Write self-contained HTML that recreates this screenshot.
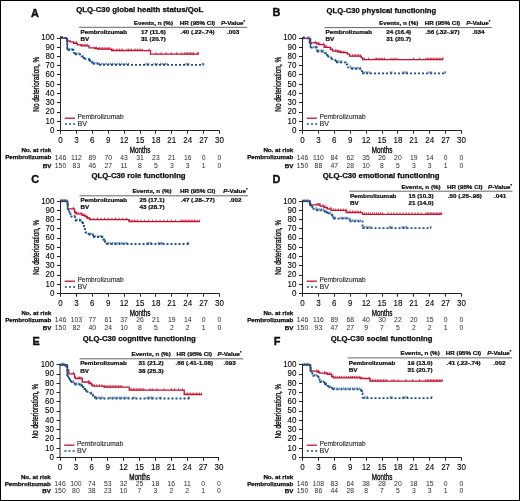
<!DOCTYPE html>
<html><head><meta charset="utf-8"><style>
html,body{margin:0;padding:0;background:#fff;}
svg{display:block;will-change:transform;}
text{font-family:"Liberation Sans",sans-serif;fill:#111;}
.let{font-size:10.9px;font-weight:bold;stroke:#000;stroke-width:0.35px;}
.ttl{font-size:7.8px;font-weight:bold;stroke:#000;stroke-width:0.25px;}
.tb{font-size:6.25px;font-weight:bold;stroke:#000;stroke-width:0.22px;}
.tk{font-size:8.9px;fill:#000;stroke:#000;stroke-width:0.1px;}
.al{font-size:8.8px;fill:#000;stroke:#000;stroke-width:0.3px;}
.al2{font-size:9px;fill:#000;stroke:#000;stroke-width:0.3px;}
.lg{font-size:6.8px;fill:#222;stroke:#222;stroke-width:0.1px;}
.rl{font-size:6.2px;font-weight:bold;stroke:#000;stroke-width:0.25px;}
.rn{font-size:6.8px;fill:#2a2a2a;}
</style></head><body>
<svg width="520" height="501" viewBox="0 0 520 501">
<rect x="0.5" y="0.5" width="519" height="500" fill="#fff" stroke="#000" stroke-width="1"/>
<text x="31" y="16.6" class="let">A</text>
<text x="139.75" y="12.2" class="ttl" text-anchor="middle" textLength="127.1" lengthAdjust="spacingAndGlyphs">QLQ-C30 global health status/QoL</text>
<text x="153.4" y="25.1" class="tb" text-anchor="middle">Events, n (%)</text>
<text x="197.5" y="25.1" class="tb" text-anchor="middle">HR (95% CI)</text>
<text x="233.1" y="25.1" class="tb" text-anchor="middle"><tspan font-style="italic">P</tspan>-Value<tspan font-size="4" dy="-2">*</tspan></text>
<path d="M79.2,27.3H247.3" stroke="#666" stroke-width="1"/>
<text x="80.6" y="33.6" class="tb">Pembrolizumab</text>
<text x="80.6" y="40.6" class="tb">BV</text>
<text x="153.4" y="33.6" class="tb" text-anchor="middle">17 (11.6)</text>
<text x="153.4" y="40.6" class="tb" text-anchor="middle">31 (20.7)</text>
<text x="197.5" y="33.6" class="tb" text-anchor="middle">.40 (.22-.74)</text>
<text x="233.1" y="33.6" class="tb" text-anchor="middle">.003</text>
<text x="54.5" y="132.8" class="tk" text-anchor="end" textLength="4.45" lengthAdjust="spacingAndGlyphs">0</text>
<text x="54.5" y="123.55" class="tk" text-anchor="end" textLength="8.9" lengthAdjust="spacingAndGlyphs">10</text>
<text x="54.5" y="114.3" class="tk" text-anchor="end" textLength="8.9" lengthAdjust="spacingAndGlyphs">20</text>
<text x="54.5" y="105.05" class="tk" text-anchor="end" textLength="8.9" lengthAdjust="spacingAndGlyphs">30</text>
<text x="54.5" y="95.8" class="tk" text-anchor="end" textLength="8.9" lengthAdjust="spacingAndGlyphs">40</text>
<text x="54.5" y="86.55" class="tk" text-anchor="end" textLength="8.9" lengthAdjust="spacingAndGlyphs">50</text>
<text x="54.5" y="77.3" class="tk" text-anchor="end" textLength="8.9" lengthAdjust="spacingAndGlyphs">60</text>
<text x="54.5" y="68.05" class="tk" text-anchor="end" textLength="8.9" lengthAdjust="spacingAndGlyphs">70</text>
<text x="54.5" y="58.8" class="tk" text-anchor="end" textLength="8.9" lengthAdjust="spacingAndGlyphs">80</text>
<text x="54.5" y="49.55" class="tk" text-anchor="end" textLength="8.9" lengthAdjust="spacingAndGlyphs">90</text>
<text x="54.5" y="40.3" class="tk" text-anchor="end" textLength="13.35" lengthAdjust="spacingAndGlyphs">100</text>
<text x="60.5" y="142.8" class="tk" text-anchor="middle" textLength="4.45" lengthAdjust="spacingAndGlyphs">0</text>
<text x="76.4" y="142.8" class="tk" text-anchor="middle" textLength="4.45" lengthAdjust="spacingAndGlyphs">3</text>
<text x="92.3" y="142.8" class="tk" text-anchor="middle" textLength="4.45" lengthAdjust="spacingAndGlyphs">6</text>
<text x="108.2" y="142.8" class="tk" text-anchor="middle" textLength="4.45" lengthAdjust="spacingAndGlyphs">9</text>
<text x="124.1" y="142.8" class="tk" text-anchor="middle" textLength="8.9" lengthAdjust="spacingAndGlyphs">12</text>
<text x="140" y="142.8" class="tk" text-anchor="middle" textLength="8.9" lengthAdjust="spacingAndGlyphs">15</text>
<text x="155.9" y="142.8" class="tk" text-anchor="middle" textLength="8.9" lengthAdjust="spacingAndGlyphs">18</text>
<text x="171.8" y="142.8" class="tk" text-anchor="middle" textLength="8.9" lengthAdjust="spacingAndGlyphs">21</text>
<text x="187.7" y="142.8" class="tk" text-anchor="middle" textLength="8.9" lengthAdjust="spacingAndGlyphs">24</text>
<text x="203.6" y="142.8" class="tk" text-anchor="middle" textLength="8.9" lengthAdjust="spacingAndGlyphs">27</text>
<text x="219.5" y="142.8" class="tk" text-anchor="middle" textLength="8.9" lengthAdjust="spacingAndGlyphs">30</text>
<path d="M60.5,37V130.5H219.5M57,130.5H60.5M57,121.5H60.5M57,112.5H60.5M57,102.5H60.5M57,93.5H60.5M57,84.5H60.5M57,74.5H60.5M57,65.5H60.5M57,56.5H60.5M57,47.5H60.5M57,38.5H60.5M60.5,130.5V133.7M76.5,130.5V133.7M92.5,130.5V133.7M108.5,130.5V133.7M124.5,130.5V133.7M140.5,130.5V133.7M155.5,130.5V133.7M171.5,130.5V133.7M187.5,130.5V133.7M203.5,130.5V133.7M219.5,130.5V133.7" stroke="#222" stroke-width="1" fill="none"/>
<text transform="translate(38.5,84.25) rotate(-90) scale(0.73,1)" class="al" text-anchor="middle">No deterioration, %</text>
<text transform="translate(140,152.7) scale(0.7,1)" class="al2" text-anchor="middle">Months</text>
<path d="M64.7,118.2H74.9" stroke="#c8102e" stroke-width="1.3"/>
<path d="M64.9,124H75.1" stroke="#1c4f8c" stroke-width="1.4" stroke-dasharray="2 2.1"/>
<text x="77.4" y="119.1" class="lg" textLength="46.2" lengthAdjust="spacingAndGlyphs">Pembrolizumab</text>
<text x="77.4" y="126.2" class="lg" textLength="9.6" lengthAdjust="spacingAndGlyphs">BV</text>
<text x="51.3" y="152.3" class="rl" text-anchor="end">No. at risk</text>
<text x="51.3" y="159.3" class="rl" text-anchor="end">Pembrolizumab</text>
<text x="51.3" y="167.5" class="rl" text-anchor="end">BV</text>
<text x="60.5" y="159.5" class="rn" text-anchor="middle">146</text>
<text x="60.5" y="167.5" class="rn" text-anchor="middle">150</text>
<text x="76.4" y="159.5" class="rn" text-anchor="middle">112</text>
<text x="76.4" y="167.5" class="rn" text-anchor="middle">83</text>
<text x="92.3" y="159.5" class="rn" text-anchor="middle">89</text>
<text x="92.3" y="167.5" class="rn" text-anchor="middle">46</text>
<text x="108.2" y="159.5" class="rn" text-anchor="middle">70</text>
<text x="108.2" y="167.5" class="rn" text-anchor="middle">27</text>
<text x="124.1" y="159.5" class="rn" text-anchor="middle">43</text>
<text x="124.1" y="167.5" class="rn" text-anchor="middle">11</text>
<text x="140" y="159.5" class="rn" text-anchor="middle">31</text>
<text x="140" y="167.5" class="rn" text-anchor="middle">8</text>
<text x="155.9" y="159.5" class="rn" text-anchor="middle">23</text>
<text x="155.9" y="167.5" class="rn" text-anchor="middle">5</text>
<text x="171.8" y="159.5" class="rn" text-anchor="middle">21</text>
<text x="171.8" y="167.5" class="rn" text-anchor="middle">3</text>
<text x="187.7" y="159.5" class="rn" text-anchor="middle">16</text>
<text x="187.7" y="167.5" class="rn" text-anchor="middle">3</text>
<text x="203.6" y="159.5" class="rn" text-anchor="middle">0</text>
<text x="203.6" y="167.5" class="rn" text-anchor="middle">1</text>
<text x="219.5" y="159.5" class="rn" text-anchor="middle">0</text>
<text x="219.5" y="167.5" class="rn" text-anchor="middle">0</text>
<path d="M60.5,38H66.6V41H70V41.8H73.5V43.3H77.4V44.8H81.2V45.8H89V47.9H95V48.6H98V49.2H111.5V50.6H150.5V54.2H198.5" stroke="#c8102e" stroke-width="1.3" fill="none"/>
<path d="M61,38.3v-2.2M62.5,38.3v-2.2M73.5,43.6v-2.2M75,43.6v-2.2M76.5,43.6v-2.2M81.2,46.1v-2.2M82.8,46.1v-2.2M84.4,46.1v-2.2M86,46.1v-2.2M87.6,46.1v-2.2M95,48.9v-2.2M96.5,48.9v-2.2M98,49.5v-2.2M99.5,49.5v-2.2M101,49.5v-2.2M102.5,49.5v-2.2M104,49.5v-2.2M105.5,49.5v-2.2M107,49.5v-2.2M108.5,49.5v-2.2M110,49.5v-2.2M112.3,50.9v-2.2M113.8,50.9v-2.2M116.3,50.9v-2.2M117.9,50.9v-2.2M119.5,50.9v-2.2M121.1,50.9v-2.2M122.7,50.9v-2.2M126.7,50.9v-2.2M128.3,50.9v-2.2M129.9,50.9v-2.2M131.5,50.9v-2.2M134.2,50.9v-2.2M135.8,50.9v-2.2M137.4,50.9v-2.2M139,50.9v-2.2M140.6,50.9v-2.2M142.2,50.9v-2.2M149.2,50.9v-2.2M155.8,54.5v-2.2M161,54.5v-2.2M166.2,54.5v-2.2M171.4,54.5v-2.2M176.6,54.5v-2.2M181.8,54.5v-2.2M184.6,54.5v-2.2M186.1,54.5v-2.2M187.6,54.5v-2.2M189.1,54.5v-2.2M190.6,54.5v-2.2M192.1,54.5v-2.2M193.6,54.5v-2.2M197.3,54.5v-2.2M198.5,54.5v-2.2" stroke="#c8102e" stroke-width="0.9" fill="none"/>
<path d="M60.5,38H67.3V49.5M67.3,49.5H67.8V50M67.8,50H73.7V53.3M73.7,53.3H75V54.4M75,54.4H81.2V56.5M81.2,56.5H83V58M83,58H84.3V58.9M84.3,58.9H88.9V60.8M88.9,60.8H91V62.5M91,62.5H92.8V63.8M92.8,63.8H99V64.8M99,64.8H203.7" stroke="#1c4f8c" stroke-width="1.8" fill="none" stroke-dasharray="2 2"/>
<path d="M60.5,38.3v-2.2M61.5,38.3v-2.2M69.7,50.3v-2.2M71.2,50.3v-2.2M72.7,50.3v-2.2M75,54.7v-2.2M76.6,54.7v-2.2M78.2,54.7v-2.2M79.8,54.7v-2.2M89,61.1v-2.2M90.6,61.1v-2.2M92.2,62.8v-2.2M94.3,64.1v-2.2M96.1,64.1v-2.2M97.9,64.1v-2.2M99.7,65.1v-2.2M101.5,65.1v-2.2M103.3,65.1v-2.2M105.1,65.1v-2.2M106.9,65.1v-2.2M108.7,65.1v-2.2M110.5,65.1v-2.2M112.3,65.1v-2.2M114.1,65.1v-2.2M115.9,65.1v-2.2M117.7,65.1v-2.2M119.5,65.1v-2.2M121.3,65.1v-2.2M123.1,65.1v-2.2M124.9,65.1v-2.2M126.7,65.1v-2.2M128.5,65.1v-2.2M145.8,65.1v-2.2M147.3,65.1v-2.2M148.8,65.1v-2.2M153.8,65.1v-2.2M155.8,65.1v-2.2M157.3,65.1v-2.2M160.4,65.1v-2.2M162.1,65.1v-2.2M163.8,65.1v-2.2M165.5,65.1v-2.2M167.2,65.1v-2.2M185.8,65.1v-2.2M187.3,65.1v-2.2M188.8,65.1v-2.2M202.5,65.1v-2.2M203.7,65.1v-2.2" stroke="#1c4f8c" stroke-width="0.8" fill="none"/>
<path d="M67.3,38V49.5" stroke="#1c4f8c" stroke-width="1.4" fill="none"/>
<text x="272.5" y="16.3" class="let">B</text>
<text x="381.35" y="12.9" class="ttl" text-anchor="middle" textLength="109.5" lengthAdjust="spacingAndGlyphs">QLQ-C30 physical functioning</text>
<text x="398.7" y="25.2" class="tb" text-anchor="middle">Events, n (%)</text>
<text x="442.5" y="25.2" class="tb" text-anchor="middle">HR (95% CI)</text>
<text x="478.3" y="25.2" class="tb" text-anchor="middle"><tspan font-style="italic">P</tspan>-Value<tspan font-size="4" dy="-2">*</tspan></text>
<path d="M324.5,27.6H491.7" stroke="#666" stroke-width="1"/>
<text x="325.5" y="34.3" class="tb">Pembrolizumab</text>
<text x="325.5" y="40.9" class="tb">BV</text>
<text x="398.7" y="34.3" class="tb" text-anchor="middle">24 (16.4)</text>
<text x="398.7" y="40.9" class="tb" text-anchor="middle">31 (20.7)</text>
<text x="442.5" y="34.3" class="tb" text-anchor="middle">.56 (.32-.97)</text>
<text x="478.3" y="34.3" class="tb" text-anchor="middle">.034</text>
<text x="296.5" y="132.8" class="tk" text-anchor="end" textLength="4.45" lengthAdjust="spacingAndGlyphs">0</text>
<text x="296.5" y="123.55" class="tk" text-anchor="end" textLength="8.9" lengthAdjust="spacingAndGlyphs">10</text>
<text x="296.5" y="114.3" class="tk" text-anchor="end" textLength="8.9" lengthAdjust="spacingAndGlyphs">20</text>
<text x="296.5" y="105.05" class="tk" text-anchor="end" textLength="8.9" lengthAdjust="spacingAndGlyphs">30</text>
<text x="296.5" y="95.8" class="tk" text-anchor="end" textLength="8.9" lengthAdjust="spacingAndGlyphs">40</text>
<text x="296.5" y="86.55" class="tk" text-anchor="end" textLength="8.9" lengthAdjust="spacingAndGlyphs">50</text>
<text x="296.5" y="77.3" class="tk" text-anchor="end" textLength="8.9" lengthAdjust="spacingAndGlyphs">60</text>
<text x="296.5" y="68.05" class="tk" text-anchor="end" textLength="8.9" lengthAdjust="spacingAndGlyphs">70</text>
<text x="296.5" y="58.8" class="tk" text-anchor="end" textLength="8.9" lengthAdjust="spacingAndGlyphs">80</text>
<text x="296.5" y="49.55" class="tk" text-anchor="end" textLength="8.9" lengthAdjust="spacingAndGlyphs">90</text>
<text x="296.5" y="40.3" class="tk" text-anchor="end" textLength="13.35" lengthAdjust="spacingAndGlyphs">100</text>
<text x="302.5" y="142.8" class="tk" text-anchor="middle" textLength="4.45" lengthAdjust="spacingAndGlyphs">0</text>
<text x="318.4" y="142.8" class="tk" text-anchor="middle" textLength="4.45" lengthAdjust="spacingAndGlyphs">3</text>
<text x="334.3" y="142.8" class="tk" text-anchor="middle" textLength="4.45" lengthAdjust="spacingAndGlyphs">6</text>
<text x="350.2" y="142.8" class="tk" text-anchor="middle" textLength="4.45" lengthAdjust="spacingAndGlyphs">9</text>
<text x="366.1" y="142.8" class="tk" text-anchor="middle" textLength="8.9" lengthAdjust="spacingAndGlyphs">12</text>
<text x="382" y="142.8" class="tk" text-anchor="middle" textLength="8.9" lengthAdjust="spacingAndGlyphs">15</text>
<text x="397.9" y="142.8" class="tk" text-anchor="middle" textLength="8.9" lengthAdjust="spacingAndGlyphs">18</text>
<text x="413.8" y="142.8" class="tk" text-anchor="middle" textLength="8.9" lengthAdjust="spacingAndGlyphs">21</text>
<text x="429.7" y="142.8" class="tk" text-anchor="middle" textLength="8.9" lengthAdjust="spacingAndGlyphs">24</text>
<text x="445.6" y="142.8" class="tk" text-anchor="middle" textLength="8.9" lengthAdjust="spacingAndGlyphs">27</text>
<text x="461.5" y="142.8" class="tk" text-anchor="middle" textLength="8.9" lengthAdjust="spacingAndGlyphs">30</text>
<path d="M302.5,37V130.5H461.5M299,130.5H302.5M299,121.5H302.5M299,112.5H302.5M299,102.5H302.5M299,93.5H302.5M299,84.5H302.5M299,74.5H302.5M299,65.5H302.5M299,56.5H302.5M299,47.5H302.5M299,38.5H302.5M302.5,130.5V133.7M318.5,130.5V133.7M334.5,130.5V133.7M350.5,130.5V133.7M366.5,130.5V133.7M382.5,130.5V133.7M397.5,130.5V133.7M413.5,130.5V133.7M429.5,130.5V133.7M445.5,130.5V133.7M461.5,130.5V133.7" stroke="#222" stroke-width="1" fill="none"/>
<text transform="translate(280.5,84.25) rotate(-90) scale(0.73,1)" class="al" text-anchor="middle">No deterioration, %</text>
<text transform="translate(382,152.7) scale(0.7,1)" class="al2" text-anchor="middle">Months</text>
<path d="M306.7,118.2H316.9" stroke="#c8102e" stroke-width="1.3"/>
<path d="M306.9,124H317.1" stroke="#1c4f8c" stroke-width="1.4" stroke-dasharray="2 2.1"/>
<text x="319.4" y="119.1" class="lg" textLength="46.2" lengthAdjust="spacingAndGlyphs">Pembrolizumab</text>
<text x="319.4" y="126.2" class="lg" textLength="9.6" lengthAdjust="spacingAndGlyphs">BV</text>
<text x="293.3" y="152.3" class="rl" text-anchor="end">No. at risk</text>
<text x="293.3" y="159.3" class="rl" text-anchor="end">Pembrolizumab</text>
<text x="293.3" y="167.5" class="rl" text-anchor="end">BV</text>
<text x="302.5" y="159.5" class="rn" text-anchor="middle">146</text>
<text x="302.5" y="167.5" class="rn" text-anchor="middle">150</text>
<text x="318.4" y="159.5" class="rn" text-anchor="middle">110</text>
<text x="318.4" y="167.5" class="rn" text-anchor="middle">88</text>
<text x="334.3" y="159.5" class="rn" text-anchor="middle">84</text>
<text x="334.3" y="167.5" class="rn" text-anchor="middle">47</text>
<text x="350.2" y="159.5" class="rn" text-anchor="middle">62</text>
<text x="350.2" y="167.5" class="rn" text-anchor="middle">28</text>
<text x="366.1" y="159.5" class="rn" text-anchor="middle">35</text>
<text x="366.1" y="167.5" class="rn" text-anchor="middle">10</text>
<text x="382" y="159.5" class="rn" text-anchor="middle">26</text>
<text x="382" y="167.5" class="rn" text-anchor="middle">8</text>
<text x="397.9" y="159.5" class="rn" text-anchor="middle">20</text>
<text x="397.9" y="167.5" class="rn" text-anchor="middle">5</text>
<text x="413.8" y="159.5" class="rn" text-anchor="middle">19</text>
<text x="413.8" y="167.5" class="rn" text-anchor="middle">3</text>
<text x="429.7" y="159.5" class="rn" text-anchor="middle">14</text>
<text x="429.7" y="167.5" class="rn" text-anchor="middle">3</text>
<text x="445.6" y="159.5" class="rn" text-anchor="middle">0</text>
<text x="445.6" y="167.5" class="rn" text-anchor="middle">1</text>
<text x="461.5" y="159.5" class="rn" text-anchor="middle">0</text>
<text x="461.5" y="167.5" class="rn" text-anchor="middle">0</text>
<path d="M302.5,38.3H309.4V42.8H316.5V43.8H318.8V44.6H324.2V47.3H330.4V49.6H332.7V51.2H338V52H341.2V52.7H347.3V54.2H349.6V56.2H361.2V57.7H362.7V59.6H442.9" stroke="#c8102e" stroke-width="1.3" fill="none"/>
<path d="M303.5,38.6v-2.2M304.5,38.6v-2.2M315.4,43.1v-2.2M316.9,44.1v-2.2M318.4,44.1v-2.2M319.9,44.9v-2.2M323.8,44.9v-2.2M325.3,47.6v-2.2M326.8,47.6v-2.2M330.8,49.9v-2.2M332.3,49.9v-2.2M335.4,51.5v-2.2M337,51.5v-2.2M338.6,52.3v-2.2M340.2,52.3v-2.2M341.8,53v-2.2M343.4,53v-2.2M345,53v-2.2M352.3,56.5v-2.2M353.9,56.5v-2.2M355.5,56.5v-2.2M357.1,56.5v-2.2M358.7,56.5v-2.2M360.3,56.5v-2.2M364.6,59.9v-2.2M368.6,59.9v-2.2M375,59.9v-2.2M376.5,59.9v-2.2M378,59.9v-2.2M379.6,59.9v-2.2M381.2,59.9v-2.2M382.8,59.9v-2.2M384.4,59.9v-2.2M391,59.9v-2.2M393,59.9v-2.2M395,59.9v-2.2M397,59.9v-2.2M413.5,59.9v-2.2M419.6,59.9v-2.2M425.8,59.9v-2.2M427.3,59.9v-2.2M428.8,59.9v-2.2M430.3,59.9v-2.2M431.8,59.9v-2.2M433.3,59.9v-2.2M434.8,59.9v-2.2M436.3,59.9v-2.2M437.8,59.9v-2.2M439.3,59.9v-2.2M440.8,59.9v-2.2M442.7,59.9v-2.2M442.9,59.9v-2.2" stroke="#c8102e" stroke-width="0.9" fill="none"/>
<path d="M302.5,38.3H310.3V43M310.3,43H310.8V47.7M310.8,47.7H317V51.5M317,51.5H324.2V53.1M324.2,53.1H326V54.8M326,54.8H327.5V56.5M327.5,56.5H331.2V59.2M331.2,59.2H335V60.8M335,60.8H336V62.3M336,62.3H345.8V64.5M345.8,64.5H347.3V67.3M347.3,67.3H351.2V68.8M351.2,68.8H362V73.3M362,73.3H445.2" stroke="#1c4f8c" stroke-width="1.8" fill="none" stroke-dasharray="2 2"/>
<path d="M307.7,38.6v-2.2M309.2,38.6v-2.2M313.8,48v-2.2M315.3,48v-2.2M316.8,48v-2.2M316.9,48v-2.2M318.5,51.8v-2.2M320.1,51.8v-2.2M321.7,51.8v-2.2M323.3,51.8v-2.2M326,55.1v-2.2M327.5,56.8v-2.2M335.4,61.1v-2.2M337,62.6v-2.2M338.6,62.6v-2.2M340.2,62.6v-2.2M341.8,62.6v-2.2M350.8,67.6v-2.2M352.4,69.1v-2.2M354,69.1v-2.2M355.6,69.1v-2.2M357.2,69.1v-2.2M358.8,69.1v-2.2M360.4,69.1v-2.2M363,73.6v-2.2M364.6,73.6v-2.2M366.2,73.6v-2.2M367.8,73.6v-2.2M369.4,73.6v-2.2M390.4,73.6v-2.2M391.9,73.6v-2.2M402.7,73.6v-2.2M404.2,73.6v-2.2M405.7,73.6v-2.2M407.2,73.6v-2.2M428.8,73.6v-2.2M430.3,73.6v-2.2M431.8,73.6v-2.2M445,73.6v-2.2M445.2,73.6v-2.2" stroke="#1c4f8c" stroke-width="0.8" fill="none"/>
<path d="M310.5,38.3V47.7" stroke="#1c4f8c" stroke-width="1.4" fill="none"/>
<text x="31.25" y="182.5" class="let">C</text>
<text x="138.6" y="178.2" class="ttl" text-anchor="middle" textLength="94" lengthAdjust="spacingAndGlyphs">QLQ-C30 role functioning</text>
<text x="152" y="193.1" class="tb" text-anchor="middle">Events, n (%)</text>
<text x="197.7" y="193.1" class="tb" text-anchor="middle">HR (95% CI)</text>
<text x="235.4" y="193.1" class="tb" text-anchor="middle"><tspan font-style="italic">P</tspan>-Value<tspan font-size="4" dy="-2">*</tspan></text>
<path d="M79.5,195.8H248.1" stroke="#666" stroke-width="1"/>
<text x="80.6" y="202.1" class="tb">Pembrolizumab</text>
<text x="80.6" y="208.7" class="tb">BV</text>
<text x="152" y="202.1" class="tb" text-anchor="middle">25 (17.1)</text>
<text x="152" y="208.7" class="tb" text-anchor="middle">43 (28.7)</text>
<text x="197.7" y="202.1" class="tb" text-anchor="middle">.47 (.28-.77)</text>
<text x="235.4" y="202.1" class="tb" text-anchor="middle">.002</text>
<text x="54.5" y="295.8" class="tk" text-anchor="end" textLength="4.45" lengthAdjust="spacingAndGlyphs">0</text>
<text x="54.5" y="286.57" class="tk" text-anchor="end" textLength="8.9" lengthAdjust="spacingAndGlyphs">10</text>
<text x="54.5" y="277.34" class="tk" text-anchor="end" textLength="8.9" lengthAdjust="spacingAndGlyphs">20</text>
<text x="54.5" y="268.11" class="tk" text-anchor="end" textLength="8.9" lengthAdjust="spacingAndGlyphs">30</text>
<text x="54.5" y="258.88" class="tk" text-anchor="end" textLength="8.9" lengthAdjust="spacingAndGlyphs">40</text>
<text x="54.5" y="249.65" class="tk" text-anchor="end" textLength="8.9" lengthAdjust="spacingAndGlyphs">50</text>
<text x="54.5" y="240.42" class="tk" text-anchor="end" textLength="8.9" lengthAdjust="spacingAndGlyphs">60</text>
<text x="54.5" y="231.19" class="tk" text-anchor="end" textLength="8.9" lengthAdjust="spacingAndGlyphs">70</text>
<text x="54.5" y="221.96" class="tk" text-anchor="end" textLength="8.9" lengthAdjust="spacingAndGlyphs">80</text>
<text x="54.5" y="212.73" class="tk" text-anchor="end" textLength="8.9" lengthAdjust="spacingAndGlyphs">90</text>
<text x="54.5" y="203.5" class="tk" text-anchor="end" textLength="13.35" lengthAdjust="spacingAndGlyphs">100</text>
<text x="60.5" y="305.8" class="tk" text-anchor="middle" textLength="4.45" lengthAdjust="spacingAndGlyphs">0</text>
<text x="76.4" y="305.8" class="tk" text-anchor="middle" textLength="4.45" lengthAdjust="spacingAndGlyphs">3</text>
<text x="92.3" y="305.8" class="tk" text-anchor="middle" textLength="4.45" lengthAdjust="spacingAndGlyphs">6</text>
<text x="108.2" y="305.8" class="tk" text-anchor="middle" textLength="4.45" lengthAdjust="spacingAndGlyphs">9</text>
<text x="124.1" y="305.8" class="tk" text-anchor="middle" textLength="8.9" lengthAdjust="spacingAndGlyphs">12</text>
<text x="140" y="305.8" class="tk" text-anchor="middle" textLength="8.9" lengthAdjust="spacingAndGlyphs">15</text>
<text x="155.9" y="305.8" class="tk" text-anchor="middle" textLength="8.9" lengthAdjust="spacingAndGlyphs">18</text>
<text x="171.8" y="305.8" class="tk" text-anchor="middle" textLength="8.9" lengthAdjust="spacingAndGlyphs">21</text>
<text x="187.7" y="305.8" class="tk" text-anchor="middle" textLength="8.9" lengthAdjust="spacingAndGlyphs">24</text>
<text x="203.6" y="305.8" class="tk" text-anchor="middle" textLength="8.9" lengthAdjust="spacingAndGlyphs">27</text>
<text x="219.5" y="305.8" class="tk" text-anchor="middle" textLength="8.9" lengthAdjust="spacingAndGlyphs">30</text>
<path d="M60.5,200.2V293.5H219.5M57,293.5H60.5M57,284.5H60.5M57,275.5H60.5M57,265.5H60.5M57,256.5H60.5M57,247.5H60.5M57,238.5H60.5M57,228.5H60.5M57,219.5H60.5M57,210.5H60.5M57,201.5H60.5M60.5,293.5V296.7M76.5,293.5V296.7M92.5,293.5V296.7M108.5,293.5V296.7M124.5,293.5V296.7M140.5,293.5V296.7M155.5,293.5V296.7M171.5,293.5V296.7M187.5,293.5V296.7M203.5,293.5V296.7M219.5,293.5V296.7" stroke="#222" stroke-width="1" fill="none"/>
<text transform="translate(38.5,247.35) rotate(-90) scale(0.73,1)" class="al" text-anchor="middle">No deterioration, %</text>
<text transform="translate(140,315.7) scale(0.7,1)" class="al2" text-anchor="middle">Months</text>
<path d="M64.7,281.2H74.9" stroke="#c8102e" stroke-width="1.3"/>
<path d="M64.9,287H75.1" stroke="#1c4f8c" stroke-width="1.4" stroke-dasharray="2 2.1"/>
<text x="77.4" y="282.1" class="lg" textLength="46.2" lengthAdjust="spacingAndGlyphs">Pembrolizumab</text>
<text x="77.4" y="289.2" class="lg" textLength="9.6" lengthAdjust="spacingAndGlyphs">BV</text>
<text x="51.3" y="315.3" class="rl" text-anchor="end">No. at risk</text>
<text x="51.3" y="322.1" class="rl" text-anchor="end">Pembrolizumab</text>
<text x="51.3" y="329.5" class="rl" text-anchor="end">BV</text>
<text x="60.5" y="322.3" class="rn" text-anchor="middle">146</text>
<text x="60.5" y="329.5" class="rn" text-anchor="middle">150</text>
<text x="76.4" y="322.3" class="rn" text-anchor="middle">103</text>
<text x="76.4" y="329.5" class="rn" text-anchor="middle">82</text>
<text x="92.3" y="322.3" class="rn" text-anchor="middle">77</text>
<text x="92.3" y="329.5" class="rn" text-anchor="middle">40</text>
<text x="108.2" y="322.3" class="rn" text-anchor="middle">61</text>
<text x="108.2" y="329.5" class="rn" text-anchor="middle">24</text>
<text x="124.1" y="322.3" class="rn" text-anchor="middle">37</text>
<text x="124.1" y="329.5" class="rn" text-anchor="middle">10</text>
<text x="140" y="322.3" class="rn" text-anchor="middle">26</text>
<text x="140" y="329.5" class="rn" text-anchor="middle">8</text>
<text x="155.9" y="322.3" class="rn" text-anchor="middle">21</text>
<text x="155.9" y="329.5" class="rn" text-anchor="middle">5</text>
<text x="171.8" y="322.3" class="rn" text-anchor="middle">19</text>
<text x="171.8" y="329.5" class="rn" text-anchor="middle">2</text>
<text x="187.7" y="322.3" class="rn" text-anchor="middle">14</text>
<text x="187.7" y="329.5" class="rn" text-anchor="middle">2</text>
<text x="203.6" y="322.3" class="rn" text-anchor="middle">0</text>
<text x="203.6" y="329.5" class="rn" text-anchor="middle">1</text>
<text x="219.5" y="322.3" class="rn" text-anchor="middle">0</text>
<text x="219.5" y="329.5" class="rn" text-anchor="middle">0</text>
<path d="M60.5,201.3H67.6V208.9H74.5V212.5H76V213.8H82V215.3H85V216.5H87V218H89.5V219.6H129V221.6H199.6" stroke="#c8102e" stroke-width="1.3" fill="none"/>
<path d="M61,201.6v-2.2M62.5,201.6v-2.2M64,201.6v-2.2M65.5,201.6v-2.2M67,201.6v-2.2M73.4,209.2v-2.2M75,212.8v-2.2M76.5,214.1v-2.2M78,214.1v-2.2M81,214.1v-2.2M82.6,215.6v-2.2M84.2,215.6v-2.2M85.8,216.8v-2.2M87.4,218.3v-2.2M90.3,219.9v-2.2M93.9,219.9v-2.2M97.5,219.9v-2.2M101.1,219.9v-2.2M104.7,219.9v-2.2M108.3,219.9v-2.2M111.9,219.9v-2.2M115.5,219.9v-2.2M119.1,219.9v-2.2M122.7,219.9v-2.2M126.3,219.9v-2.2M129.5,221.9v-2.2M131.1,221.9v-2.2M132.7,221.9v-2.2M134.3,221.9v-2.2M135.9,221.9v-2.2M137.5,221.9v-2.2M141,221.9v-2.2M144.8,221.9v-2.2M148.6,221.9v-2.2M152.4,221.9v-2.2M156.2,221.9v-2.2M160,221.9v-2.2M163.8,221.9v-2.2M167.6,221.9v-2.2M171.4,221.9v-2.2M175.2,221.9v-2.2M180.8,221.9v-2.2M182.3,221.9v-2.2M183.8,221.9v-2.2M185.3,221.9v-2.2M186.8,221.9v-2.2M188.3,221.9v-2.2M189.8,221.9v-2.2M191.3,221.9v-2.2M192.8,221.9v-2.2M194.3,221.9v-2.2M195.8,221.9v-2.2M197.7,221.9v-2.2M199.6,221.9v-2.2" stroke="#c8102e" stroke-width="0.9" fill="none"/>
<path d="M60.5,201.3H67.4V205M67.4,205H67.8V209.5M67.8,209.5H68.5V212M68.5,212H69.5V214M69.5,214H70.5V216.5M70.5,216.5H75V220.5M75,220.5H82V223M82,223H83V226M83,226H84V229M84,229H85V232.5M85,232.5H88.5V234.5M88.5,234.5H93V237M93,237H102.5V239.5M102.5,239.5H104V241.5M104,241.5H106.5V244M106.5,244H188.7" stroke="#1c4f8c" stroke-width="1.8" fill="none" stroke-dasharray="2 2"/>
<path d="M61,201.6v-2.2M62.5,201.6v-2.2M64,201.6v-2.2M65.5,201.6v-2.2M74.2,216.8v-2.2M75.7,220.8v-2.2M77.2,220.8v-2.2M79.5,220.8v-2.2M81,220.8v-2.2M82.5,223.3v-2.2M88.8,234.8v-2.2M90.3,234.8v-2.2M91.8,234.8v-2.2M94.2,237.3v-2.2M95.7,237.3v-2.2M98.8,237.3v-2.2M100.3,237.3v-2.2M101.8,237.3v-2.2M104.2,241.8v-2.2M105.7,241.8v-2.2M107.2,244.3v-2.2M108.8,244.3v-2.2M110.6,244.3v-2.2M112.4,244.3v-2.2M114.2,244.3v-2.2M116,244.3v-2.2M117.8,244.3v-2.2M119.6,244.3v-2.2M121.4,244.3v-2.2M123.2,244.3v-2.2M125,244.3v-2.2M126.8,244.3v-2.2M147,244.3v-2.2M148.5,244.3v-2.2M150,244.3v-2.2M151.5,244.3v-2.2M158.5,244.3v-2.2M160,244.3v-2.2M161.5,244.3v-2.2M163,244.3v-2.2M187.7,244.3v-2.2M188.7,244.3v-2.2" stroke="#1c4f8c" stroke-width="0.8" fill="none"/>
<path d="M60.5,201.1H67.6V209.5" stroke="#1c4f8c" stroke-width="1.4" fill="none"/>
<text x="272.5" y="182.5" class="let">D</text>
<text x="381.2" y="178.2" class="ttl" text-anchor="middle" textLength="116.75" lengthAdjust="spacingAndGlyphs">QLQ-C30 emotional functioning</text>
<text x="421" y="188.9" class="tb" text-anchor="middle">Events, n (%)</text>
<text x="464.8" y="188.9" class="tb" text-anchor="middle">HR (95% CI)</text>
<text x="500.1" y="188.9" class="tb" text-anchor="middle"><tspan font-style="italic">P</tspan>-Value<tspan font-size="4" dy="-2">*</tspan></text>
<path d="M349.25,191.2H512.5" stroke="#666" stroke-width="1"/>
<text x="349.9" y="198" class="tb">Pembrolizumab</text>
<text x="349.9" y="205.2" class="tb">BV</text>
<text x="421" y="198" class="tb" text-anchor="middle">15 (10.3)</text>
<text x="421" y="205.2" class="tb" text-anchor="middle">21 (14.0)</text>
<text x="464.8" y="198" class="tb" text-anchor="middle">.50 (.25-.98)</text>
<text x="500.1" y="198" class="tb" text-anchor="middle">.041</text>
<text x="296.5" y="295.8" class="tk" text-anchor="end" textLength="4.45" lengthAdjust="spacingAndGlyphs">0</text>
<text x="296.5" y="286.57" class="tk" text-anchor="end" textLength="8.9" lengthAdjust="spacingAndGlyphs">10</text>
<text x="296.5" y="277.34" class="tk" text-anchor="end" textLength="8.9" lengthAdjust="spacingAndGlyphs">20</text>
<text x="296.5" y="268.11" class="tk" text-anchor="end" textLength="8.9" lengthAdjust="spacingAndGlyphs">30</text>
<text x="296.5" y="258.88" class="tk" text-anchor="end" textLength="8.9" lengthAdjust="spacingAndGlyphs">40</text>
<text x="296.5" y="249.65" class="tk" text-anchor="end" textLength="8.9" lengthAdjust="spacingAndGlyphs">50</text>
<text x="296.5" y="240.42" class="tk" text-anchor="end" textLength="8.9" lengthAdjust="spacingAndGlyphs">60</text>
<text x="296.5" y="231.19" class="tk" text-anchor="end" textLength="8.9" lengthAdjust="spacingAndGlyphs">70</text>
<text x="296.5" y="221.96" class="tk" text-anchor="end" textLength="8.9" lengthAdjust="spacingAndGlyphs">80</text>
<text x="296.5" y="212.73" class="tk" text-anchor="end" textLength="8.9" lengthAdjust="spacingAndGlyphs">90</text>
<text x="296.5" y="203.5" class="tk" text-anchor="end" textLength="13.35" lengthAdjust="spacingAndGlyphs">100</text>
<text x="302.5" y="305.8" class="tk" text-anchor="middle" textLength="4.45" lengthAdjust="spacingAndGlyphs">0</text>
<text x="318.4" y="305.8" class="tk" text-anchor="middle" textLength="4.45" lengthAdjust="spacingAndGlyphs">3</text>
<text x="334.3" y="305.8" class="tk" text-anchor="middle" textLength="4.45" lengthAdjust="spacingAndGlyphs">6</text>
<text x="350.2" y="305.8" class="tk" text-anchor="middle" textLength="4.45" lengthAdjust="spacingAndGlyphs">9</text>
<text x="366.1" y="305.8" class="tk" text-anchor="middle" textLength="8.9" lengthAdjust="spacingAndGlyphs">12</text>
<text x="382" y="305.8" class="tk" text-anchor="middle" textLength="8.9" lengthAdjust="spacingAndGlyphs">15</text>
<text x="397.9" y="305.8" class="tk" text-anchor="middle" textLength="8.9" lengthAdjust="spacingAndGlyphs">18</text>
<text x="413.8" y="305.8" class="tk" text-anchor="middle" textLength="8.9" lengthAdjust="spacingAndGlyphs">21</text>
<text x="429.7" y="305.8" class="tk" text-anchor="middle" textLength="8.9" lengthAdjust="spacingAndGlyphs">24</text>
<text x="445.6" y="305.8" class="tk" text-anchor="middle" textLength="8.9" lengthAdjust="spacingAndGlyphs">27</text>
<text x="461.5" y="305.8" class="tk" text-anchor="middle" textLength="8.9" lengthAdjust="spacingAndGlyphs">30</text>
<path d="M302.5,200.2V293.5H461.5M299,293.5H302.5M299,284.5H302.5M299,275.5H302.5M299,265.5H302.5M299,256.5H302.5M299,247.5H302.5M299,238.5H302.5M299,228.5H302.5M299,219.5H302.5M299,210.5H302.5M299,201.5H302.5M302.5,293.5V296.7M318.5,293.5V296.7M334.5,293.5V296.7M350.5,293.5V296.7M366.5,293.5V296.7M382.5,293.5V296.7M397.5,293.5V296.7M413.5,293.5V296.7M429.5,293.5V296.7M445.5,293.5V296.7M461.5,293.5V296.7" stroke="#222" stroke-width="1" fill="none"/>
<text transform="translate(280.5,247.35) rotate(-90) scale(0.73,1)" class="al" text-anchor="middle">No deterioration, %</text>
<text transform="translate(382,315.7) scale(0.7,1)" class="al2" text-anchor="middle">Months</text>
<path d="M306.7,281.2H316.9" stroke="#c8102e" stroke-width="1.3"/>
<path d="M306.9,287H317.1" stroke="#1c4f8c" stroke-width="1.4" stroke-dasharray="2 2.1"/>
<text x="319.4" y="282.1" class="lg" textLength="46.2" lengthAdjust="spacingAndGlyphs">Pembrolizumab</text>
<text x="319.4" y="289.2" class="lg" textLength="9.6" lengthAdjust="spacingAndGlyphs">BV</text>
<text x="293.3" y="315.3" class="rl" text-anchor="end">No. at risk</text>
<text x="293.3" y="322.1" class="rl" text-anchor="end">Pembrolizumab</text>
<text x="293.3" y="329.5" class="rl" text-anchor="end">BV</text>
<text x="302.5" y="322.3" class="rn" text-anchor="middle">146</text>
<text x="302.5" y="329.5" class="rn" text-anchor="middle">150</text>
<text x="318.4" y="322.3" class="rn" text-anchor="middle">116</text>
<text x="318.4" y="329.5" class="rn" text-anchor="middle">93</text>
<text x="334.3" y="322.3" class="rn" text-anchor="middle">89</text>
<text x="334.3" y="329.5" class="rn" text-anchor="middle">47</text>
<text x="350.2" y="322.3" class="rn" text-anchor="middle">68</text>
<text x="350.2" y="329.5" class="rn" text-anchor="middle">27</text>
<text x="366.1" y="322.3" class="rn" text-anchor="middle">40</text>
<text x="366.1" y="329.5" class="rn" text-anchor="middle">9</text>
<text x="382" y="322.3" class="rn" text-anchor="middle">30</text>
<text x="382" y="329.5" class="rn" text-anchor="middle">7</text>
<text x="397.9" y="322.3" class="rn" text-anchor="middle">22</text>
<text x="397.9" y="329.5" class="rn" text-anchor="middle">5</text>
<text x="413.8" y="322.3" class="rn" text-anchor="middle">20</text>
<text x="413.8" y="329.5" class="rn" text-anchor="middle">2</text>
<text x="429.7" y="322.3" class="rn" text-anchor="middle">15</text>
<text x="429.7" y="329.5" class="rn" text-anchor="middle">2</text>
<text x="445.6" y="322.3" class="rn" text-anchor="middle">0</text>
<text x="445.6" y="329.5" class="rn" text-anchor="middle">1</text>
<text x="461.5" y="322.3" class="rn" text-anchor="middle">0</text>
<text x="461.5" y="329.5" class="rn" text-anchor="middle">0</text>
<path d="M302.5,201.3H309.8V204.9H320.2V206.1H324V207.6H327.1V208.8H331V210.4H346.2V212.6H362.5V214.3H441.7" stroke="#c8102e" stroke-width="1.3" fill="none"/>
<path d="M316.9,205.2v-2.2M318.4,205.2v-2.2M319.9,205.2v-2.2M323,206.4v-2.2M324.5,207.9v-2.2M326,207.9v-2.2M327.5,209.1v-2.2M330.8,209.1v-2.2M333.3,210.7v-2.2M335.8,210.7v-2.2M338.3,210.7v-2.2M340.8,210.7v-2.2M343.3,210.7v-2.2M345.8,210.7v-2.2M347.7,212.9v-2.2M349.3,212.9v-2.2M350.9,212.9v-2.2M352.5,212.9v-2.2M354.1,212.9v-2.2M355.7,212.9v-2.2M357.3,212.9v-2.2M358.9,212.9v-2.2M360.5,212.9v-2.2M364.6,214.6v-2.2M366.6,214.6v-2.2M368.6,214.6v-2.2M370.6,214.6v-2.2M372.6,214.6v-2.2M374.6,214.6v-2.2M376.6,214.6v-2.2M378.6,214.6v-2.2M380.6,214.6v-2.2M382.6,214.6v-2.2M388,214.6v-2.2M391,214.6v-2.2M394,214.6v-2.2M397,214.6v-2.2M400,214.6v-2.2M403,214.6v-2.2M406,214.6v-2.2M409,214.6v-2.2M412,214.6v-2.2M415,214.6v-2.2M418,214.6v-2.2M421,214.6v-2.2M425.8,214.6v-2.2M427.3,214.6v-2.2M428.8,214.6v-2.2M430.3,214.6v-2.2M431.8,214.6v-2.2M433.3,214.6v-2.2M434.8,214.6v-2.2M436.3,214.6v-2.2M437.8,214.6v-2.2M439.3,214.6v-2.2M440.8,214.6v-2.2M441.7,214.6v-2.2" stroke="#c8102e" stroke-width="0.9" fill="none"/>
<path d="M302.5,201.3H309.8V204M309.8,204H310.5V205.7M310.5,205.7H311.5V207M311.5,207H312.5V208.8M312.5,208.8H316.3V210.3M316.3,210.3H324V211.5M324,211.5H326V212.5M326,212.5H328V213.4M328,213.4H331.5V215.5M331.5,215.5H332.5V217.5M332.5,217.5H333.5V218.7M333.5,218.7H349.6V221.4M349.6,221.4H362.5V228.1M362.5,228.1H431" stroke="#1c4f8c" stroke-width="1.8" fill="none" stroke-dasharray="2 2"/>
<path d="M303,201.6v-2.2M304.5,201.6v-2.2M306,201.6v-2.2M307.5,201.6v-2.2M309,201.6v-2.2M316,209.1v-2.2M317.5,210.6v-2.2M319,210.6v-2.2M320,210.6v-2.2M321.6,210.6v-2.2M323.2,210.6v-2.2M324.8,211.8v-2.2M326.4,212.8v-2.2M328,213.7v-2.2M330.8,213.7v-2.2M332.4,215.8v-2.2M334,219v-2.2M335.6,219v-2.2M340,219v-2.2M341.6,219v-2.2M343.2,219v-2.2M344.8,219v-2.2M346.4,219v-2.2M348,219v-2.2M350.8,221.7v-2.2M352.4,221.7v-2.2M354,221.7v-2.2M355.6,221.7v-2.2M357.2,221.7v-2.2M358.8,221.7v-2.2M360.4,221.7v-2.2M363,228.4v-2.2M364.6,228.4v-2.2M366.2,228.4v-2.2M367.8,228.4v-2.2M369.4,228.4v-2.2M371,228.4v-2.2M389.6,228.4v-2.2M390.8,228.4v-2.2M392,228.4v-2.2M402,228.4v-2.2M403.5,228.4v-2.2M405,228.4v-2.2M406.5,228.4v-2.2M430.4,228.4v-2.2M431,228.4v-2.2" stroke="#1c4f8c" stroke-width="0.8" fill="none"/>
<path d="M302.5,201.1H310.2V206" stroke="#1c4f8c" stroke-width="1.4" fill="none"/>
<text x="32.5" y="345" class="let">E</text>
<text x="139.3" y="340.7" class="ttl" text-anchor="middle" textLength="112.95" lengthAdjust="spacingAndGlyphs">QLQ-C30 cognitive functioning</text>
<text x="151.1" y="356.3" class="tb" text-anchor="middle">Events, n (%)</text>
<text x="194.3" y="356.3" class="tb" text-anchor="middle">HR (95% CI)</text>
<text x="229.6" y="356.3" class="tb" text-anchor="middle"><tspan font-style="italic">P</tspan>-Value<tspan font-size="4" dy="-2">*</tspan></text>
<path d="M79.5,358.8H243.3" stroke="#666" stroke-width="1"/>
<text x="80.2" y="365.2" class="tb">Pembrolizumab</text>
<text x="80.2" y="372.6" class="tb">BV</text>
<text x="151.1" y="365.2" class="tb" text-anchor="middle">31 (21.2)</text>
<text x="151.1" y="372.6" class="tb" text-anchor="middle">38 (25.3)</text>
<text x="194.3" y="365.2" class="tb" text-anchor="middle">.66 (.41-1.08)</text>
<text x="229.6" y="365.2" class="tb" text-anchor="middle">.093</text>
<text x="54" y="459.8" class="tk" text-anchor="end" textLength="4.45" lengthAdjust="spacingAndGlyphs">0</text>
<text x="54" y="450.53" class="tk" text-anchor="end" textLength="8.9" lengthAdjust="spacingAndGlyphs">10</text>
<text x="54" y="441.26" class="tk" text-anchor="end" textLength="8.9" lengthAdjust="spacingAndGlyphs">20</text>
<text x="54" y="431.99" class="tk" text-anchor="end" textLength="8.9" lengthAdjust="spacingAndGlyphs">30</text>
<text x="54" y="422.72" class="tk" text-anchor="end" textLength="8.9" lengthAdjust="spacingAndGlyphs">40</text>
<text x="54" y="413.45" class="tk" text-anchor="end" textLength="8.9" lengthAdjust="spacingAndGlyphs">50</text>
<text x="54" y="404.18" class="tk" text-anchor="end" textLength="8.9" lengthAdjust="spacingAndGlyphs">60</text>
<text x="54" y="394.91" class="tk" text-anchor="end" textLength="8.9" lengthAdjust="spacingAndGlyphs">70</text>
<text x="54" y="385.64" class="tk" text-anchor="end" textLength="8.9" lengthAdjust="spacingAndGlyphs">80</text>
<text x="54" y="376.37" class="tk" text-anchor="end" textLength="8.9" lengthAdjust="spacingAndGlyphs">90</text>
<text x="54" y="367.1" class="tk" text-anchor="end" textLength="13.35" lengthAdjust="spacingAndGlyphs">100</text>
<text x="60" y="469.8" class="tk" text-anchor="middle" textLength="4.45" lengthAdjust="spacingAndGlyphs">0</text>
<text x="75.9" y="469.8" class="tk" text-anchor="middle" textLength="4.45" lengthAdjust="spacingAndGlyphs">3</text>
<text x="91.8" y="469.8" class="tk" text-anchor="middle" textLength="4.45" lengthAdjust="spacingAndGlyphs">6</text>
<text x="107.7" y="469.8" class="tk" text-anchor="middle" textLength="4.45" lengthAdjust="spacingAndGlyphs">9</text>
<text x="123.6" y="469.8" class="tk" text-anchor="middle" textLength="8.9" lengthAdjust="spacingAndGlyphs">12</text>
<text x="139.5" y="469.8" class="tk" text-anchor="middle" textLength="8.9" lengthAdjust="spacingAndGlyphs">15</text>
<text x="155.4" y="469.8" class="tk" text-anchor="middle" textLength="8.9" lengthAdjust="spacingAndGlyphs">18</text>
<text x="171.3" y="469.8" class="tk" text-anchor="middle" textLength="8.9" lengthAdjust="spacingAndGlyphs">21</text>
<text x="187.2" y="469.8" class="tk" text-anchor="middle" textLength="8.9" lengthAdjust="spacingAndGlyphs">24</text>
<text x="203.1" y="469.8" class="tk" text-anchor="middle" textLength="8.9" lengthAdjust="spacingAndGlyphs">27</text>
<text x="219" y="469.8" class="tk" text-anchor="middle" textLength="8.9" lengthAdjust="spacingAndGlyphs">30</text>
<path d="M60,363.8V457.5H219M56.5,457.5H60M56.5,448.5H60M56.5,438.5H60M56.5,429.5H60M56.5,420.5H60M56.5,411.5H60M56.5,401.5H60M56.5,392.5H60M56.5,383.5H60M56.5,374.5H60M56.5,364.5H60M60.5,457.5V460.7M75.5,457.5V460.7M91.5,457.5V460.7M107.5,457.5V460.7M123.5,457.5V460.7M139.5,457.5V460.7M155.5,457.5V460.7M171.5,457.5V460.7M187.5,457.5V460.7M203.5,457.5V460.7M218.5,457.5V460.7" stroke="#222" stroke-width="1" fill="none"/>
<text transform="translate(38,411.15) rotate(-90) scale(0.73,1)" class="al" text-anchor="middle">No deterioration, %</text>
<text transform="translate(139.5,479.7) scale(0.7,1)" class="al2" text-anchor="middle">Months</text>
<path d="M64.2,445.2H74.4" stroke="#c8102e" stroke-width="1.3"/>
<path d="M64.4,451H74.6" stroke="#1c4f8c" stroke-width="1.4" stroke-dasharray="2 2.1"/>
<text x="76.9" y="446.1" class="lg" textLength="46.2" lengthAdjust="spacingAndGlyphs">Pembrolizumab</text>
<text x="76.9" y="453.2" class="lg" textLength="9.6" lengthAdjust="spacingAndGlyphs">BV</text>
<text x="50.8" y="479.3" class="rl" text-anchor="end">No. at risk</text>
<text x="50.8" y="486" class="rl" text-anchor="end">Pembrolizumab</text>
<text x="50.8" y="493.4" class="rl" text-anchor="end">BV</text>
<text x="60" y="486.2" class="rn" text-anchor="middle">146</text>
<text x="60" y="493.4" class="rn" text-anchor="middle">150</text>
<text x="75.9" y="486.2" class="rn" text-anchor="middle">100</text>
<text x="75.9" y="493.4" class="rn" text-anchor="middle">80</text>
<text x="91.8" y="486.2" class="rn" text-anchor="middle">74</text>
<text x="91.8" y="493.4" class="rn" text-anchor="middle">38</text>
<text x="107.7" y="486.2" class="rn" text-anchor="middle">53</text>
<text x="107.7" y="493.4" class="rn" text-anchor="middle">23</text>
<text x="123.6" y="486.2" class="rn" text-anchor="middle">32</text>
<text x="123.6" y="493.4" class="rn" text-anchor="middle">10</text>
<text x="139.5" y="486.2" class="rn" text-anchor="middle">25</text>
<text x="139.5" y="493.4" class="rn" text-anchor="middle">7</text>
<text x="155.4" y="486.2" class="rn" text-anchor="middle">18</text>
<text x="155.4" y="493.4" class="rn" text-anchor="middle">3</text>
<text x="171.3" y="486.2" class="rn" text-anchor="middle">16</text>
<text x="171.3" y="493.4" class="rn" text-anchor="middle">2</text>
<text x="187.2" y="486.2" class="rn" text-anchor="middle">11</text>
<text x="187.2" y="493.4" class="rn" text-anchor="middle">2</text>
<text x="203.1" y="486.2" class="rn" text-anchor="middle">0</text>
<text x="203.1" y="493.4" class="rn" text-anchor="middle">1</text>
<text x="219" y="486.2" class="rn" text-anchor="middle">0</text>
<text x="219" y="493.4" class="rn" text-anchor="middle">0</text>
<path d="M60,364.8H65.5V366.6H67.5V370H68.8V373.9H74.5V377.5H75.5V378.5H82.2V382H89V383.5H91.5V385H92.8V386.2H104.2V387.1H129.2V390.2H184.2V394.6H201.5" stroke="#c8102e" stroke-width="1.3" fill="none"/>
<path d="M62.5,365.1v-2.2M64,365.1v-2.2M73.4,374.2v-2.2M74.9,377.8v-2.2M78,378.8v-2.2M79.5,378.8v-2.2M81,378.8v-2.2M88.8,382.3v-2.2M90.3,383.8v-2.2M91.8,385.3v-2.2M94.3,386.5v-2.2M96.8,386.5v-2.2M99.3,386.5v-2.2M101.8,386.5v-2.2M104.2,387.4v-2.2M105.8,387.4v-2.2M107.4,387.4v-2.2M109,387.4v-2.2M110.6,387.4v-2.2M112.2,387.4v-2.2M113.8,387.4v-2.2M115.4,387.4v-2.2M117,387.4v-2.2M118.6,387.4v-2.2M120.2,387.4v-2.2M121.8,387.4v-2.2M130.3,390.5v-2.2M131.8,390.5v-2.2M133.3,390.5v-2.2M134.8,390.5v-2.2M136.3,390.5v-2.2M137.8,390.5v-2.2M139.3,390.5v-2.2M140.8,390.5v-2.2M142.3,390.5v-2.2M143.8,390.5v-2.2M150,390.5v-2.2M152.3,390.5v-2.2M157,390.5v-2.2M163.8,390.5v-2.2M171.5,390.5v-2.2M174.6,390.5v-2.2M178.5,390.5v-2.2M182.3,390.5v-2.2M184.6,394.9v-2.2M186.1,394.9v-2.2M187.6,394.9v-2.2M189.1,394.9v-2.2M190.6,394.9v-2.2M192.1,394.9v-2.2M193.6,394.9v-2.2M195.1,394.9v-2.2M196.6,394.9v-2.2M198.1,394.9v-2.2M199.6,394.9v-2.2M201.5,394.9v-2.2" stroke="#c8102e" stroke-width="0.9" fill="none"/>
<path d="M60,364.8H67.3V376.5M67.3,376.5H68.2V378M68.2,378H69V379.5M69,379.5H70V381M70,381H70.8V382M70.8,382H74.5V384.5M74.5,384.5H80.5V385.5M80.5,385.5H82V387M82,387H83.5V389M83.5,389H85V390.5M85,390.5H86.4V391.8M86.4,391.8H90V393.5M90,393.5H92V395.5M92,395.5H94V397.5M94,397.5H95.5V398.5M95.5,398.5H189.3" stroke="#1c4f8c" stroke-width="1.8" fill="none" stroke-dasharray="2 2"/>
<path d="M61,365.1v-2.2M62.5,365.1v-2.2M64,365.1v-2.2M73.4,382.3v-2.2M75,384.8v-2.2M76.6,384.8v-2.2M78.2,384.8v-2.2M79.8,384.8v-2.2M81.4,385.8v-2.2M91.8,393.8v-2.2M93.4,395.8v-2.2M95,397.8v-2.2M96.6,398.8v-2.2M98.2,398.8v-2.2M99.8,398.8v-2.2M101.4,398.8v-2.2M103,398.8v-2.2M108.8,398.8v-2.2M110.6,398.8v-2.2M112.4,398.8v-2.2M114.2,398.8v-2.2M116,398.8v-2.2M117.8,398.8v-2.2M119.6,398.8v-2.2M121.4,398.8v-2.2M123.2,398.8v-2.2M125,398.8v-2.2M126.8,398.8v-2.2M128.6,398.8v-2.2M133.4,398.8v-2.2M134.9,398.8v-2.2M147,398.8v-2.2M148.5,398.8v-2.2M150,398.8v-2.2M151.5,398.8v-2.2M153,398.8v-2.2M159.2,398.8v-2.2M160.7,398.8v-2.2M188.5,398.8v-2.2M189.3,398.8v-2.2" stroke="#1c4f8c" stroke-width="0.8" fill="none"/>
<path d="M60,364.7H67.3V376.5" stroke="#1c4f8c" stroke-width="1.4" fill="none"/>
<text x="273.75" y="344.5" class="let">F</text>
<text x="381.6" y="340.7" class="ttl" text-anchor="middle" textLength="101.55" lengthAdjust="spacingAndGlyphs">QLQ-C30 social functioning</text>
<text x="420.1" y="355.1" class="tb" text-anchor="middle">Events, n (%)</text>
<text x="463.5" y="355.1" class="tb" text-anchor="middle">HR (95% CI)</text>
<text x="499.3" y="355.1" class="tb" text-anchor="middle"><tspan font-style="italic">P</tspan>-Value<tspan font-size="4" dy="-2">*</tspan></text>
<path d="M347.5,357.9H512" stroke="#666" stroke-width="1"/>
<text x="348.8" y="364.6" class="tb">Pembrolizumab</text>
<text x="348.8" y="371.8" class="tb">BV</text>
<text x="420.1" y="364.6" class="tb" text-anchor="middle">19 (13.0)</text>
<text x="420.1" y="371.8" class="tb" text-anchor="middle">31 (20.7)</text>
<text x="463.5" y="364.6" class="tb" text-anchor="middle">.41 (.22-.74)</text>
<text x="499.3" y="364.6" class="tb" text-anchor="middle">.002</text>
<text x="296.5" y="459.8" class="tk" text-anchor="end" textLength="4.45" lengthAdjust="spacingAndGlyphs">0</text>
<text x="296.5" y="450.53" class="tk" text-anchor="end" textLength="8.9" lengthAdjust="spacingAndGlyphs">10</text>
<text x="296.5" y="441.26" class="tk" text-anchor="end" textLength="8.9" lengthAdjust="spacingAndGlyphs">20</text>
<text x="296.5" y="431.99" class="tk" text-anchor="end" textLength="8.9" lengthAdjust="spacingAndGlyphs">30</text>
<text x="296.5" y="422.72" class="tk" text-anchor="end" textLength="8.9" lengthAdjust="spacingAndGlyphs">40</text>
<text x="296.5" y="413.45" class="tk" text-anchor="end" textLength="8.9" lengthAdjust="spacingAndGlyphs">50</text>
<text x="296.5" y="404.18" class="tk" text-anchor="end" textLength="8.9" lengthAdjust="spacingAndGlyphs">60</text>
<text x="296.5" y="394.91" class="tk" text-anchor="end" textLength="8.9" lengthAdjust="spacingAndGlyphs">70</text>
<text x="296.5" y="385.64" class="tk" text-anchor="end" textLength="8.9" lengthAdjust="spacingAndGlyphs">80</text>
<text x="296.5" y="376.37" class="tk" text-anchor="end" textLength="8.9" lengthAdjust="spacingAndGlyphs">90</text>
<text x="296.5" y="367.1" class="tk" text-anchor="end" textLength="13.35" lengthAdjust="spacingAndGlyphs">100</text>
<text x="302.5" y="469.8" class="tk" text-anchor="middle" textLength="4.45" lengthAdjust="spacingAndGlyphs">0</text>
<text x="318.4" y="469.8" class="tk" text-anchor="middle" textLength="4.45" lengthAdjust="spacingAndGlyphs">3</text>
<text x="334.3" y="469.8" class="tk" text-anchor="middle" textLength="4.45" lengthAdjust="spacingAndGlyphs">6</text>
<text x="350.2" y="469.8" class="tk" text-anchor="middle" textLength="4.45" lengthAdjust="spacingAndGlyphs">9</text>
<text x="366.1" y="469.8" class="tk" text-anchor="middle" textLength="8.9" lengthAdjust="spacingAndGlyphs">12</text>
<text x="382" y="469.8" class="tk" text-anchor="middle" textLength="8.9" lengthAdjust="spacingAndGlyphs">15</text>
<text x="397.9" y="469.8" class="tk" text-anchor="middle" textLength="8.9" lengthAdjust="spacingAndGlyphs">18</text>
<text x="413.8" y="469.8" class="tk" text-anchor="middle" textLength="8.9" lengthAdjust="spacingAndGlyphs">21</text>
<text x="429.7" y="469.8" class="tk" text-anchor="middle" textLength="8.9" lengthAdjust="spacingAndGlyphs">24</text>
<text x="445.6" y="469.8" class="tk" text-anchor="middle" textLength="8.9" lengthAdjust="spacingAndGlyphs">27</text>
<text x="461.5" y="469.8" class="tk" text-anchor="middle" textLength="8.9" lengthAdjust="spacingAndGlyphs">30</text>
<path d="M302.5,363.8V457.5H461.5M299,457.5H302.5M299,448.5H302.5M299,438.5H302.5M299,429.5H302.5M299,420.5H302.5M299,411.5H302.5M299,401.5H302.5M299,392.5H302.5M299,383.5H302.5M299,374.5H302.5M299,364.5H302.5M302.5,457.5V460.7M318.5,457.5V460.7M334.5,457.5V460.7M350.5,457.5V460.7M366.5,457.5V460.7M382.5,457.5V460.7M397.5,457.5V460.7M413.5,457.5V460.7M429.5,457.5V460.7M445.5,457.5V460.7M461.5,457.5V460.7" stroke="#222" stroke-width="1" fill="none"/>
<text transform="translate(280.5,411.15) rotate(-90) scale(0.73,1)" class="al" text-anchor="middle">No deterioration, %</text>
<text transform="translate(382,479.7) scale(0.7,1)" class="al2" text-anchor="middle">Months</text>
<path d="M306.7,445.2H316.9" stroke="#c8102e" stroke-width="1.3"/>
<path d="M306.9,451H317.1" stroke="#1c4f8c" stroke-width="1.4" stroke-dasharray="2 2.1"/>
<text x="319.4" y="446.1" class="lg" textLength="46.2" lengthAdjust="spacingAndGlyphs">Pembrolizumab</text>
<text x="319.4" y="453.2" class="lg" textLength="9.6" lengthAdjust="spacingAndGlyphs">BV</text>
<text x="293.3" y="479.3" class="rl" text-anchor="end">No. at risk</text>
<text x="293.3" y="486" class="rl" text-anchor="end">Pembrolizumab</text>
<text x="293.3" y="493.4" class="rl" text-anchor="end">BV</text>
<text x="302.5" y="486.2" class="rn" text-anchor="middle">146</text>
<text x="302.5" y="493.4" class="rn" text-anchor="middle">150</text>
<text x="318.4" y="486.2" class="rn" text-anchor="middle">108</text>
<text x="318.4" y="493.4" class="rn" text-anchor="middle">86</text>
<text x="334.3" y="486.2" class="rn" text-anchor="middle">83</text>
<text x="334.3" y="493.4" class="rn" text-anchor="middle">44</text>
<text x="350.2" y="486.2" class="rn" text-anchor="middle">64</text>
<text x="350.2" y="493.4" class="rn" text-anchor="middle">28</text>
<text x="366.1" y="486.2" class="rn" text-anchor="middle">38</text>
<text x="366.1" y="493.4" class="rn" text-anchor="middle">8</text>
<text x="382" y="486.2" class="rn" text-anchor="middle">28</text>
<text x="382" y="493.4" class="rn" text-anchor="middle">7</text>
<text x="397.9" y="486.2" class="rn" text-anchor="middle">20</text>
<text x="397.9" y="493.4" class="rn" text-anchor="middle">5</text>
<text x="413.8" y="486.2" class="rn" text-anchor="middle">18</text>
<text x="413.8" y="493.4" class="rn" text-anchor="middle">3</text>
<text x="429.7" y="486.2" class="rn" text-anchor="middle">15</text>
<text x="429.7" y="493.4" class="rn" text-anchor="middle">3</text>
<text x="445.6" y="486.2" class="rn" text-anchor="middle">0</text>
<text x="445.6" y="493.4" class="rn" text-anchor="middle">1</text>
<text x="461.5" y="486.2" class="rn" text-anchor="middle">0</text>
<text x="461.5" y="493.4" class="rn" text-anchor="middle">0</text>
<path d="M302.5,364.8H310.3V371.2H317V372H319.5V373.2H324.8V373.5H327.5V374.3H331.7V376.6H333.2V377.8H360.8V378.5H370V381.2H442.3" stroke="#c8102e" stroke-width="1.3" fill="none"/>
<path d="M316.9,371.5v-2.2M318.4,372.3v-2.2M324.6,373.5v-2.2M326.2,373.8v-2.2M327.8,374.6v-2.2M329.4,374.6v-2.2M331,374.6v-2.2M333,376.9v-2.2M335.2,378.1v-2.2M337.4,378.1v-2.2M339.6,378.1v-2.2M341.8,378.1v-2.2M344,378.1v-2.2M346.2,378.1v-2.2M348.4,378.1v-2.2M350.6,378.1v-2.2M350.8,378.1v-2.2M352.6,378.1v-2.2M354.4,378.1v-2.2M356.2,378.1v-2.2M358,378.1v-2.2M359.8,378.1v-2.2M361.6,378.8v-2.2M369.2,378.8v-2.2M370.8,381.5v-2.2M372.4,381.5v-2.2M374,381.5v-2.2M375.6,381.5v-2.2M377.2,381.5v-2.2M378.8,381.5v-2.2M380.4,381.5v-2.2M382,381.5v-2.2M383.6,381.5v-2.2M385.2,381.5v-2.2M386.8,381.5v-2.2M392,381.5v-2.2M394.2,381.5v-2.2M398,381.5v-2.2M405.8,381.5v-2.2M412.7,381.5v-2.2M419.6,381.5v-2.2M425.8,381.5v-2.2M427.3,381.5v-2.2M428.8,381.5v-2.2M430.3,381.5v-2.2M431.8,381.5v-2.2M433.3,381.5v-2.2M434.8,381.5v-2.2M436.3,381.5v-2.2M437.8,381.5v-2.2M439.3,381.5v-2.2M440.8,381.5v-2.2M442.3,381.5v-2.2" stroke="#c8102e" stroke-width="0.9" fill="none"/>
<path d="M302.5,364.8H310.3V368M310.3,368H310.8V371.2M310.8,371.2H311.5V373.5M311.5,373.5H312.5V375.8M312.5,375.8H317.5V377M317.5,377H318.5V379.5M318.5,379.5H319.5V382M319.5,382H324V383M324,383H324.8V384.5M324.8,384.5H327V386M327,386H328.5V387.4M328.5,387.4H331.2V388M331.2,388H332.5V389.4M332.5,389.4H360.8V391M360.8,391H361.9V393.5M361.9,393.5H362.5V398.1M362.5,398.1H431.9" stroke="#1c4f8c" stroke-width="1.8" fill="none" stroke-dasharray="2 2"/>
<path d="M303,365.1v-2.2M304.5,365.1v-2.2M306,365.1v-2.2M307.5,365.1v-2.2M309,365.1v-2.2M314.6,376.1v-2.2M316.1,376.1v-2.2M320,382.3v-2.2M321.6,382.3v-2.2M323.2,382.3v-2.2M324.8,384.8v-2.2M326.4,384.8v-2.2M330.8,387.7v-2.2M332.6,389.7v-2.2M334.4,389.7v-2.2M336.2,389.7v-2.2M338,389.7v-2.2M339.8,389.7v-2.2M341.6,389.7v-2.2M343.4,389.7v-2.2M345.2,389.7v-2.2M347,389.7v-2.2M348.8,389.7v-2.2M350.6,389.7v-2.2M352.4,389.7v-2.2M354.2,389.7v-2.2M356,389.7v-2.2M357.8,389.7v-2.2M359.6,389.7v-2.2M361.4,391.3v-2.2M364.6,398.4v-2.2M366.1,398.4v-2.2M367.6,398.4v-2.2M390.4,398.4v-2.2M391.9,398.4v-2.2M402.7,398.4v-2.2M404.3,398.4v-2.2M405.9,398.4v-2.2M407.5,398.4v-2.2M431.2,398.4v-2.2M431.9,398.4v-2.2" stroke="#1c4f8c" stroke-width="0.8" fill="none"/>
<path d="M302.5,364.7H310.5V371.2" stroke="#1c4f8c" stroke-width="1.4" fill="none"/>
</svg>
</body></html>
